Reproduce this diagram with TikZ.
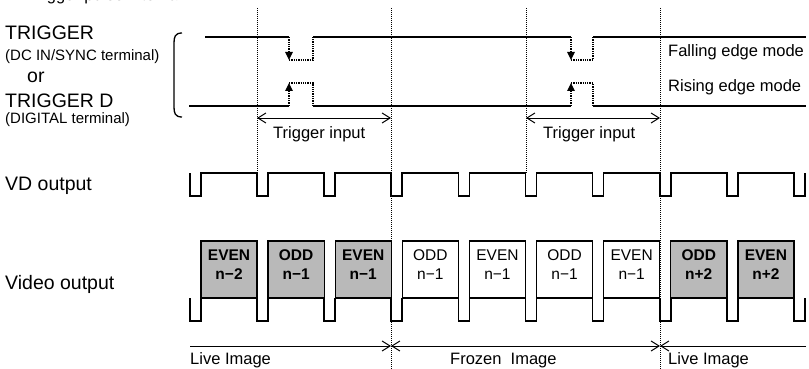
\documentclass[tikz,border=0pt]{standalone}
\usepackage{fontspec}
\setmainfont{Liberation Sans}
\usetikzlibrary{arrows.meta}
\tikzset{
  sig/.style={line width=1.7pt, line join=miter},
  guide/.style={line width=0.9pt, dash pattern=on 1pt off 1pt},
  dotsig/.style={line width=1.2pt, dash pattern=on 1.3pt off 1pt},
  bigtxt/.style={font=\fontsize{19.5}{21}\selectfont, inner sep=0pt, anchor=base west},
  subtxt/.style={font=\fontsize{15}{16}\selectfont, inner sep=0pt, anchor=base west},
  midtxt/.style={font=\fontsize{16.5}{18}\selectfont, inner sep=0pt, anchor=base west},
  fieldbox/.style={draw, line width=1.4pt, minimum width=56.1pt, minimum height=57pt,
    inner sep=0pt, align=center, font=\fontsize{15.5}{19}\selectfont},
  livebox/.style={fieldbox, fill=gray!55, font=\fontsize{15.5}{19}\selectfont\bfseries},
  frozenbox/.style={fieldbox, fill=white},
  uptip/.style={-{Triangle[length=8pt,width=7.5pt]}},
  spanarr/.style={line width=1pt, {Straight Barb[length=8pt,width=10pt]}-{Straight Barb[length=8pt,width=10pt]}},
  endarr/.style={line width=1pt, -{Straight Barb[length=8pt,width=10pt]}},
}
\begin{document}
\begin{tikzpicture}[x=1pt, y=-1pt, >=Stealth]
  \useasboundingbox (0,0) rectangle (809,369);
  \clip (0,0) rectangle (809,369);
  \node[midtxt] (title) at (28,1) {Trigger pulse interval};

  % left labels
  \node[bigtxt] (trig) at (5,40) {TRIGGER};
  \node[subtxt] (trigsub) at (5,61) {(DC IN/SYNC terminal)};
  \node[bigtxt] (or) at (27,83) {or};
  \node[bigtxt] (trigd) at (5,107) {TRIGGER D};
  \node[subtxt] (trigdsub) at (5,124) {(DIGITAL terminal)};
  \node[bigtxt] (vdlab) at (5,190) {VD output};
  \node[bigtxt] (vidlab) at (5,289) {Video output};
  \draw[line width=1.3pt] (182,33) .. controls (175,33) and (174,37) .. (174,43) -- (174,107)
    .. controls (174,113) and (175,117) .. (182,117);

  % guides
  \foreach \g/\gx/\gy in {a/257/173, b/391/369, c/526/173, d/660/369} {
    \coordinate (g\g top) at (\gx,8);
    \coordinate (g\g bot) at (\gx,\gy);
    \draw[guide] (g\g top) -- (g\g bot);
  }

  % trigger
  \draw[sig] (205,37) -- (289,37) (313,37) -- (571,37) (593,37) -- (806,37);
  \draw[sig] (189,106) -- (289,106) (313,106) -- (571,106) (593,106) -- (806,106);
  \foreach \ea/\eb in {289/313, 571/593} {
    \draw[dotsig, uptip] (\ea,37) -- (\ea,60);
    \draw[dotsig] (\ea,60) -- (\eb,60) -- (\eb,37);
    \draw[dotsig, uptip] (\ea,106) -- (\ea,83);
    \draw[dotsig] (\ea,83) -- (\eb,83) -- (\eb,106);
  }
  \node[midtxt] (fallab) at (668,57) {Falling edge mode};
  \node[midtxt] (riselab) at (668,92) {Rising edge mode};

  \coordinate (ti1a) at (257,118); \coordinate (ti1b) at (391,118);
  \coordinate (ti2a) at (526,118); \coordinate (ti2b) at (660,118);
  \draw[spanarr] (ti1a) -- (ti1b);
  \draw[spanarr] (ti2a) -- (ti2b);
  \node[midtxt] (tilab1) at (273,138) {Trigger input};
  \node[midtxt] (tilab2) at (543,138) {Trigger input};

  % VD output
  \draw[sig] (190,173) \foreach \k in {0,...,9} {
    -- ({190+67.1*\k},173) -- ({190+67.1*\k},196) -- ({201+67.1*\k},196) -- ({201+67.1*\k},173) };

  % video output
  \foreach \k in {0,...,9}
    \draw[sig] ({190+67.1*\k},298) -- ({190+67.1*\k},321) -- ({201+67.1*\k},321) -- ({201+67.1*\k},298);
  \foreach \k/\f/\n/\s in {0/EVEN/n−2/livebox, 1/ODD/n−1/livebox, 2/EVEN/n−1/livebox,
      3/ODD/n−1/frozenbox, 4/EVEN/n−1/frozenbox, 5/ODD/n−1/frozenbox, 6/EVEN/n−1/frozenbox,
      7/ODD/n+2/livebox, 8/EVEN/n+2/livebox}
    \node[\s] (v\k) at ({229.05+67.1*\k},269.5) {\f\\\n\\[-9pt]};

  % live / frozen
  \coordinate (lv0) at (190,346); \coordinate (fz0) at (391,346);
  \coordinate (fz1) at (660,346); \coordinate (lv1) at (806,346);
  \draw[endarr] (lv0) -- (fz0);
  \draw[spanarr] (fz0) -- (fz1);
  \draw[endarr] (lv1) -- (fz1);
  \node[midtxt] (livelab1) at (190,364) {Live Image};
  \node[midtxt] (frozlab) at (450,364) {Frozen\ \ Image};
  \node[midtxt] (livelab2) at (668,364) {Live Image};
\end{tikzpicture}
\end{document}
